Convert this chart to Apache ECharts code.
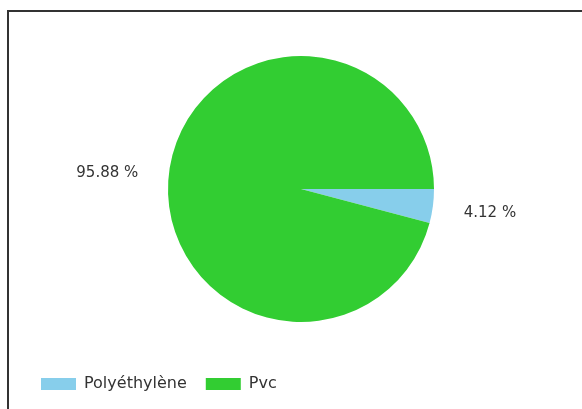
<!DOCTYPE html>
<html><head><meta charset="utf-8">
<script src="https://cdn.jsdelivr.net/npm/echarts@6/dist/echarts.min.js"></script>
<style>html,body{margin:0;padding:0;background:#fff}#c{width:582px;height:409px}</style>
</head><body><div id="c"></div>
<script>
var categories = ['Polyéthylène', 'Pvc'];
var values = [4.12, 95.88];
var colors = ['#87CEEB', '#32CD32'];

var chart = echarts.init(document.getElementById('c'), null, {renderer: 'canvas'});
var font = 'DejaVu Sans';
chart.setOption({
  animation: false,
  color: colors,
  graphic: [{
    type: 'polyline',
    shape: {points: [[8, 420], [8, 11], [590, 11]]},
    style: {stroke: '#333', lineWidth: 2, fill: null}
  }],
  legend: {
    left: 36, top: 371,
    itemWidth: 35, itemHeight: 12, itemGap: 19,
    icon: 'rect',
    textStyle: {fontFamily: font, fontSize: 16, color: '#333', padding: [0, 0, 0, 3]},
    data: categories
  },
  series: [{
    type: 'pie',
    center: [301, 189],
    radius: [0, 133],
    startAngle: 0,
    clockwise: true,
    label: {
      show: true, position: 'outside',
      formatter: function (p) { return '\n' + p.value.toFixed(2) + ' %'; },
      fontFamily: font, fontSize: 15, color: '#333',
      lineHeight: 8
    },
    labelLine: {show: false, length: 20, length2: 6},
    emphasis: {disabled: true},
    data: categories.map(function (c, i) { return {name: c, value: values[i]}; })
  }]
});
</script></body></html>
